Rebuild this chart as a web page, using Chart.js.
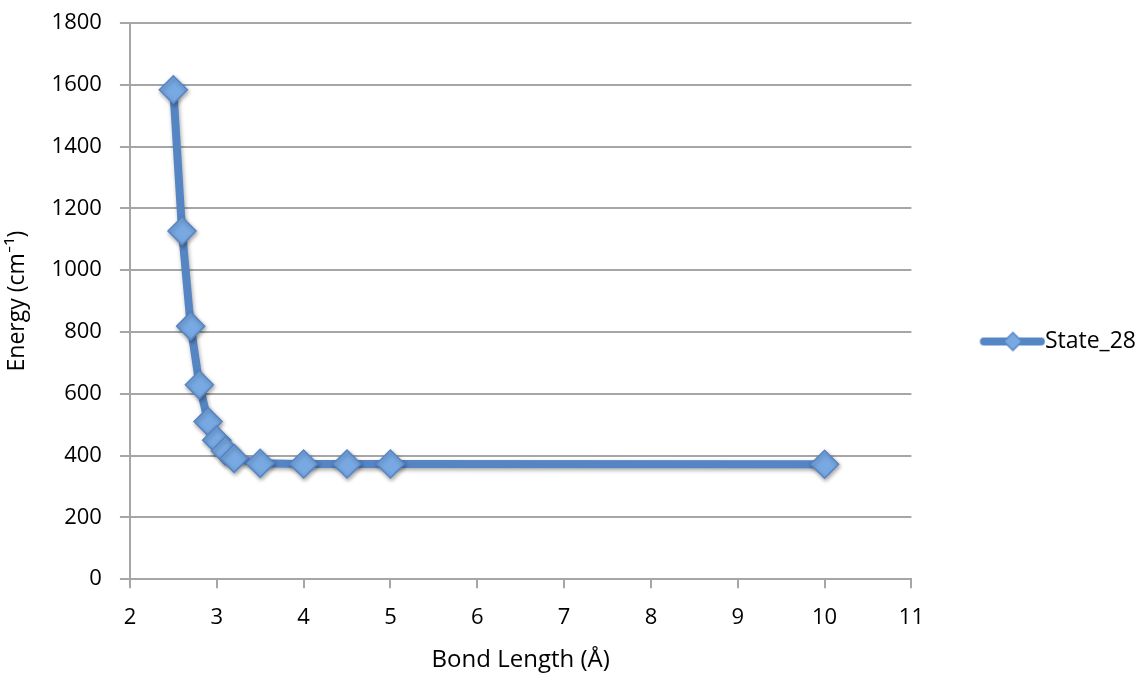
<!DOCTYPE html>
<html>
<head>
<meta charset="utf-8">
<script src="https://cdn.jsdelivr.net/npm/chart.js@4/dist/chart.umd.min.js"></script>
<style>
  body { margin: 0; background: #fff; }
</style>
</head>
<body>
<canvas id="mycanvas" width="1146" height="673"></canvas>
<script>
var bondLength = [2.5, 2.6, 2.7, 2.8, 2.9, 3.0, 3.1, 3.2, 3.5, 4.0, 4.5, 5.0, 10.0];
var energy = [1584, 1127, 819, 629, 510, 450, 416, 391, 375, 373, 373, 373, 372];
var seriesName = 'State_28';
var xTitle = 'Bond Length (Å)';
var yTitle = 'Energy (cm⁻¹)';

var lineColor = '#5685c4';
var pointFill = '#78a9e3';
var gridColor = '#a6a6a6';
var fontFamily = '"Open Sans", Lato, sans-serif';
var legendSize = 23;

var points = [];
for (var i in bondLength) {
	points.push({x: bondLength[i], y: energy[i]});
}

// legend symbol: thick line with a diamond; the blank left part keeps it away from the plot
var iconW = 122;
var extra = 12;
var legendIcon = document.createElement('canvas');
legendIcon.width = iconW + 2 * extra;
legendIcon.height = 30;
(function(){
	var c = legendIcon.getContext('2d');
	var textX = extra + iconW + legendSize / 2;
	c.strokeStyle = lineColor;
	c.lineWidth = 8;
	c.lineCap = 'round';
	c.beginPath();
	c.moveTo(textX - 61, 15);
	c.lineTo(textX - 4, 15);
	c.stroke();
	var cx = textX - 32;
	c.fillStyle = pointFill;
	c.lineWidth = 1.5;
	c.beginPath();
	c.moveTo(cx, 6);
	c.lineTo(cx + 9, 15);
	c.lineTo(cx, 24);
	c.lineTo(cx - 9, 15);
	c.closePath();
	c.fill();
	c.stroke();
})();

var shadowPlugin = {
	id: 'shadow',
	beforeDatasetDraw: function(chart){
		var ctx = chart.ctx;
		ctx.save();
		ctx.shadowColor = 'rgba(0,0,0,0.35)';
		ctx.shadowBlur = 4;
		ctx.shadowOffsetX = 1;
		ctx.shadowOffsetY = 2;
	},
	afterDatasetDraw: function(chart){
		chart.ctx.restore();
	}
};

var ctx = document.getElementById('mycanvas');
var chart = new Chart(ctx, {
	type: 'scatter',
	data: {
		datasets: [{
			label: seriesName,
			data: points,
			showLine: true,
			borderColor: lineColor,
			borderWidth: 8,
			backgroundColor: pointFill,
			pointStyle: 'rectRot',
			pointRadius: 14,
			pointBorderColor: lineColor,
			pointBorderWidth: 1.5,
			pointHoverRadius: 14,
			tension: 0
		}]
	},
	options: {
		responsive: false,
		animation: false,
		layout: { padding: { top: 23, right: 0, left: 4, bottom: 0 } },
		plugins: {
			tooltip: { enabled: false },
			legend: {
				position: 'right',
				align: 'start',
				// empty title only pushes the single entry down to the middle of the plot
				title: { display: true, text: '', color: '#000', font: { size: 10, lineHeight: 1 }, padding: { top: 297, bottom: 0 } },
				labels: {
					usePointStyle: true,
					pointStyleWidth: iconW,
					color: '#000',
					font: { family: fontFamily, size: legendSize },
					padding: 0,
					generateLabels: function(chart){
						return [{
							text: seriesName,
							pointStyle: legendIcon,
							fillStyle: pointFill,
							strokeStyle: lineColor,
							fontColor: '#000',
							lineWidth: 0,
							datasetIndex: 0
						}];
					}
				}
			}
		},
		scales: {
			x: {
				type: 'linear',
				min: 2,
				max: 11,
				ticks: { stepSize: 1, color: '#000', font: { family: fontFamily, size: 22 }, padding: 16 },
				grid: { drawOnChartArea: false, drawTicks: true, tickLength: 9, color: gridColor, lineWidth: 2 },
				border: { color: gridColor, width: 2 },
				title: { display: true, text: xTitle, color: '#000', font: { family: fontFamily, size: 24, lineHeight: 1.1 }, padding: { top: 0, bottom: 0 } }
			},
			y: {
				min: 0,
				max: 1800,
				afterFit: function(scale){ scale.paddingTop = 0; },
				ticks: {
					stepSize: 200,
					color: '#000',
					font: { family: fontFamily, size: 22 },
					padding: 18,
					callback: function(value){ return String(value); }
				},
				grid: { color: gridColor, lineWidth: 2, tickLength: 10 },
				border: { color: gridColor, width: 2 },
				title: { display: true, text: yTitle, color: '#000', font: { family: fontFamily, size: 23 }, padding: { top: 0, bottom: 2 } }
			}
		}
	},
	plugins: [shadowPlugin]
});
</script>
</body>
</html>
